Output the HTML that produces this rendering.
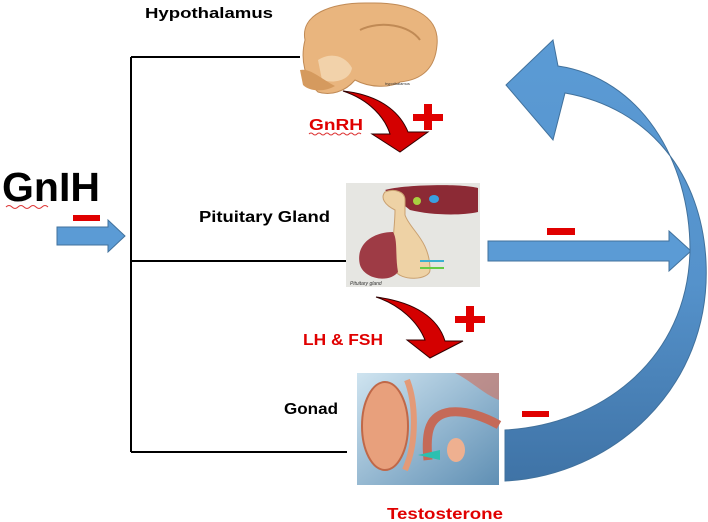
<!DOCTYPE html>
<html><head><style>
html,body{margin:0;padding:0;background:#fff;}
svg{display:block;font-family:"Liberation Sans",sans-serif;}
</style></head><body>
<svg width="708" height="522" viewBox="0 0 708 522" xmlns="http://www.w3.org/2000/svg">
<defs>
<linearGradient id="cg" x1="0" y1="0" x2="0" y2="1">
<stop offset="0" stop-color="#5b9bd5"/><stop offset="0.55" stop-color="#5592cb"/><stop offset="1" stop-color="#3f73a6"/>
</linearGradient>
<linearGradient id="gb" x1="0" y1="0" x2="1" y2="1">
<stop offset="0" stop-color="#cfe4f0"/><stop offset="1" stop-color="#5f8fb4"/>
</linearGradient>
</defs>
<g stroke="#000" stroke-width="2" fill="none">
<line x1="131" y1="57" x2="131" y2="452"/>
<line x1="131" y1="57" x2="300" y2="57"/>
<line x1="131" y1="261" x2="350" y2="261"/>
<line x1="131" y1="452" x2="347" y2="452"/>
</g>
<text x="2" y="201" font-size="41" font-weight="bold" fill="#000" textLength="98" lengthAdjust="spacingAndGlyphs">GnIH</text>
<path d="M6,207 q3,-3 6,0 t6,0 t6,0 t6,0 t6,0 t6,0 t6,0" stroke="#d33" stroke-width="1" fill="none"/>
<rect x="73" y="215" width="27" height="6" fill="#e00000"/>
<path d="M57,227 H108 V220 L125,236 L108,252 V245 H57 Z" fill="#5b9bd5" stroke="#41719c" stroke-width="1"/>
<text x="145" y="18" font-size="15" font-weight="bold" textLength="128" lengthAdjust="spacingAndGlyphs">Hypothalamus</text>
<text x="199" y="222" font-size="16" font-weight="bold" textLength="131" lengthAdjust="spacingAndGlyphs">Pituitary Gland</text>
<text x="284" y="414" font-size="16" font-weight="bold" textLength="54" lengthAdjust="spacingAndGlyphs">Gonad</text>
<text x="309" y="130" font-size="16" font-weight="bold" fill="#e00000" textLength="54" lengthAdjust="spacingAndGlyphs">GnRH</text>
<path d="M309,134 q2,-2 4,0 t4,0 t4,0 t4,0 t4,0 t4,0 t4,0 t4,0 t4,0 t4,0 t4,0 t4,0 t4,0" stroke="#d33" stroke-width="1" fill="none"/>
<text x="303" y="345" font-size="16" font-weight="bold" fill="#e00000" textLength="80" lengthAdjust="spacingAndGlyphs">LH &amp; FSH</text>
<text x="387" y="519" font-size="16" font-weight="bold" fill="#e00000" textLength="116" lengthAdjust="spacingAndGlyphs">Testosterone</text>
<g fill="#e00000">
<rect x="413" y="114" width="30" height="7"/><rect x="424" y="104" width="8" height="26"/>
<rect x="455" y="316" width="30" height="7"/><rect x="466" y="306" width="8" height="26"/>
</g>
<rect x="547" y="228" width="28" height="7" fill="#e00000"/>
<rect x="522" y="411" width="27" height="6" fill="#e00000"/>
<path d="M343,91 C380,95 400,112 408,132 L428,132 L400,152 L372,134 L390,134 C385,118 370,100 343,91 Z" fill="#d40000" stroke="#300" stroke-width="1"/>
<path d="M376,297 C415,302 438,318 445,341 L463,341 L430,358 L407,340 L425,340 C418,322 400,305 376,297 Z" fill="#d40000" stroke="#300" stroke-width="1"/>
<path d="M305,40 C300,15 330,2 370,3 C410,2 440,15 437,45 C435,70 420,80 400,82 C390,88 370,88 355,80 C345,92 330,96 318,92 C305,80 300,60 305,40 Z" fill="#e9b57e" stroke="#c08a55" stroke-width="1"/>
<path d="M318,60 C330,52 345,55 352,68 C350,80 335,84 322,80 Z" fill="#f2d2aa"/>
<path d="M300,70 C310,68 320,78 335,86 C325,92 310,92 303,85 Z" fill="#d59a5e"/>
<path d="M360,30 C380,20 410,25 420,40" stroke="#c08a55" fill="none" stroke-width="2"/>
<text x="385" y="85" font-size="4" fill="#333">hypothalamus</text>
<rect x="346" y="183" width="134" height="104" fill="#e6e6e2"/>
<path d="M385,190 C400,185 460,183 478,188 L478,212 C460,216 430,215 410,210 Z" fill="#8c2a35"/>
<path d="M385,192 C395,188 405,192 405,200 L405,215 C410,230 430,240 430,270 C430,280 400,282 395,270 C390,250 395,230 395,210 C385,205 380,198 385,192 Z" fill="#eed2a5" stroke="#c9a070" stroke-width="1"/>
<path d="M393,232 C372,232 355,245 360,265 C365,280 390,283 398,272 C395,255 398,240 393,232 Z" fill="#9e3b45"/>
<ellipse cx="417" cy="201" rx="4" ry="4" fill="#a8d040"/>
<ellipse cx="434" cy="199" rx="5" ry="4" fill="#3aa0e0"/>
<line x1="420" y1="261" x2="444" y2="261" stroke="#3ab0d0" stroke-width="2"/>
<line x1="420" y1="268" x2="444" y2="268" stroke="#6c4" stroke-width="2"/>
<text x="350" y="285" font-size="5" font-style="italic" fill="#333">Pituitary gland</text>
<rect x="357" y="373" width="142" height="112" fill="url(#gb)"/>
<ellipse cx="385" cy="426" rx="23" ry="44" fill="#e8a07c" stroke="#c06848" stroke-width="2"/>
<path d="M407,380 C415,400 418,440 405,470" stroke="#e39a78" stroke-width="6" fill="none"/>
<path d="M428,460 C425,430 430,415 450,412 C470,410 490,420 499,425" stroke="#c56a58" stroke-width="9" fill="none"/>
<ellipse cx="456" cy="450" rx="9" ry="12" fill="#eeb090"/>
<path d="M455,373 C470,380 485,395 499,400 L499,373 Z" fill="#c97b6e" opacity="0.7"/>
<path d="M418,455 L440,450 L440,460 Z" fill="#2cc0b0"/>
<path d="M488,241 H669 V231 L691,251 L669,271 V261 H488 Z" fill="#5b9bd5" stroke="#41719c" stroke-width="1"/>
<path d="M505,481 C610,476 712,390 706,262 C702,175 650,108 565,93 L553,140 L506,85 L553,40 L558,66 C640,78 690,160 690,250 C688,360 600,425 505,430 Z" fill="url(#cg)" stroke="#41719c" stroke-width="1"/>
</svg>
</body></html>
